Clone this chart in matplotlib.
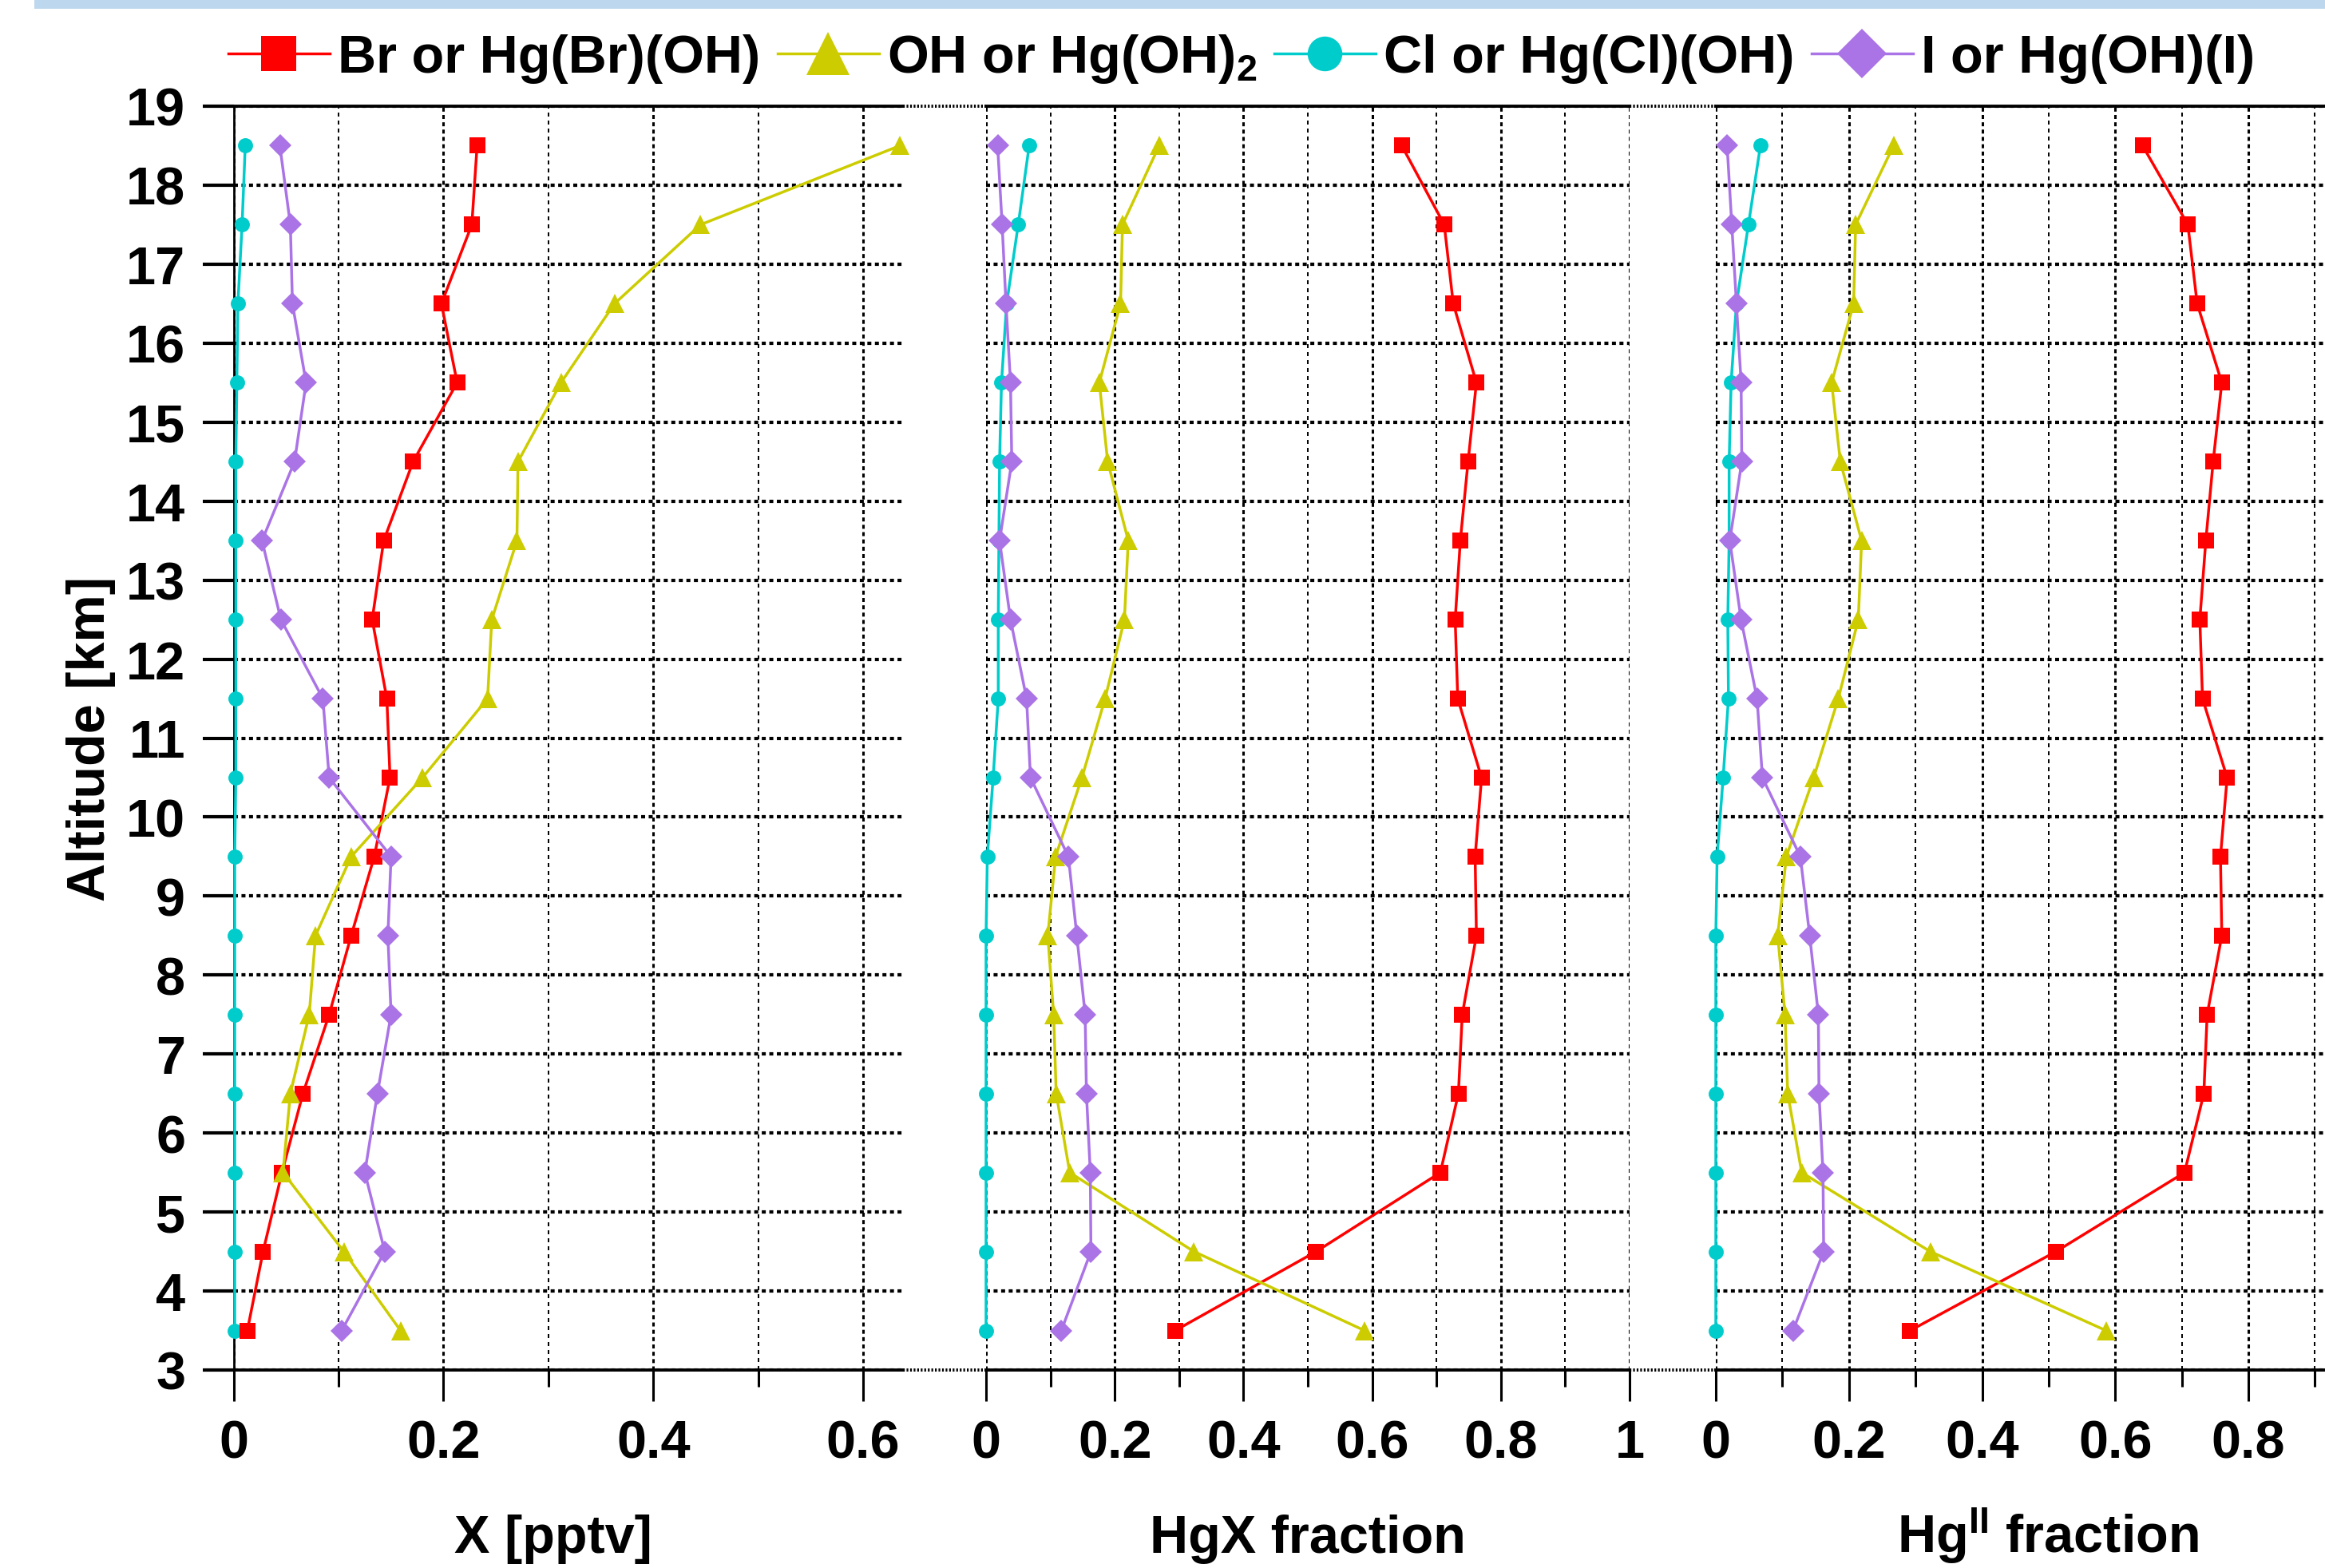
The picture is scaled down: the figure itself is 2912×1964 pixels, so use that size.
import matplotlib
matplotlib.use("Agg")
import matplotlib.pyplot as plt
from matplotlib.ticker import MultipleLocator, FuncFormatter
from matplotlib.lines import Line2D
from matplotlib.patches import Rectangle

plt.rcParams['font.family'] = ['Liberation Sans', 'DejaVu Sans']
plt.rcParams['font.weight'] = 'bold'
plt.rcParams['axes.labelweight'] = 'bold'
plt.rcParams['mathtext.fontset'] = 'custom'
plt.rcParams['mathtext.rm'] = 'Liberation Sans:bold'
plt.rcParams['mathtext.bf'] = 'Liberation Sans:bold'
plt.rcParams['mathtext.it'] = 'Liberation Sans:bold'
plt.rcParams['lines.scale_dashes'] = False

### Daten
altitude = [18.5, 17.5, 16.5, 15.5, 14.5, 13.5, 12.5, 11.5, 10.5, 9.5, 8.5, 7.5, 6.5, 5.5, 4.5, 3.5]

# X [pptv]
br_x = [0.232, 0.227, 0.198, 0.213, 0.171, 0.143, 0.132, 0.146, 0.149, 0.134, 0.112, 0.091, 0.066, 0.046, 0.028, 0.013]
oh_x = [0.635, 0.445, 0.363, 0.312, 0.271, 0.270, 0.246, 0.242, 0.180, 0.112, 0.078, 0.072, 0.054, 0.047, 0.105, 0.159]
cl_x = [0.011, 0.008, 0.004, 0.003, 0.002, 0.002, 0.002, 0.002, 0.002, 0.001, 0.001, 0.001, 0.001, 0.001, 0.001, 0.001]
i_x = [0.044, 0.054, 0.056, 0.069, 0.058, 0.027, 0.045, 0.085, 0.091, 0.150, 0.147, 0.150, 0.137, 0.125, 0.144, 0.103]

# HgX fraction
br_hgx = [0.646, 0.712, 0.726, 0.762, 0.749, 0.737, 0.729, 0.733, 0.770, 0.760, 0.762, 0.740, 0.734, 0.706, 0.513, 0.294]
oh_hgx = [0.269, 0.212, 0.209, 0.176, 0.189, 0.221, 0.215, 0.185, 0.149, 0.108, 0.096, 0.105, 0.109, 0.130, 0.323, 0.588]
cl_hgx = [0.067, 0.050, 0.032, 0.024, 0.021, 0.020, 0.019, 0.019, 0.011, 0.002, 0.0, 0.0, 0.0, 0.0, 0.0, 0.0]
i_hgx = [0.018, 0.025, 0.031, 0.038, 0.040, 0.021, 0.038, 0.063, 0.069, 0.128, 0.141, 0.154, 0.156, 0.162, 0.163, 0.117]

# Hg(II) fraction
br_hg2 = [0.641, 0.709, 0.723, 0.760, 0.747, 0.736, 0.727, 0.731, 0.768, 0.758, 0.760, 0.738, 0.733, 0.704, 0.511, 0.292]
oh_hg2 = [0.267, 0.210, 0.207, 0.174, 0.187, 0.219, 0.214, 0.184, 0.147, 0.106, 0.093, 0.104, 0.108, 0.129, 0.322, 0.586]
cl_hg2 = [0.067, 0.049, 0.031, 0.023, 0.020, 0.020, 0.018, 0.019, 0.011, 0.002, 0.0, 0.0, 0.0, 0.0, 0.0, 0.0]
i_hg2 = [0.017, 0.024, 0.031, 0.038, 0.039, 0.021, 0.038, 0.062, 0.070, 0.127, 0.141, 0.154, 0.155, 0.161, 0.162, 0.116]

labels = ['Br or Hg(Br)(OH)', r'OH or Hg(OH)$_2$', 'Cl or Hg(Cl)(OH)', 'I or Hg(OH)(I)']
xlabels = ['X [pptv]', 'HgX fraction', r'Hg$^{\rm II}$ fraction']
xmax = [0.638, 1.0, 0.915]

styles = [dict(color='#FF0000', marker='s', ms=7, zorder=4),
          dict(color='#CCCC00', marker='^', ms=8.3, zorder=5),
          dict(color='#00CCCC', marker='o', ms=6.8, zorder=3),
          dict(color='#AA73E6', marker='D', ms=6.9, zorder=6)]

panels = [[br_x, oh_x, cl_x, i_x], [br_hgx, oh_hgx, cl_hgx, i_hgx], [br_hg2, oh_hg2, cl_hg2, i_hg2]]

W, H = 2912, 1965
fig = plt.figure(figsize=(W / 200, H / 200), dpi=200)

bottom = 1 - 1717 / H
height = (1717 - 134) / H
lefts = [292.7, 1235, 2149]
rights = [1131, 2041, 2912]
label_x = [0.477, 0.5, 0.545]

axes = []
for k in range(3):
    ax = fig.add_axes([lefts[k] / W, bottom, (rights[k] - lefts[k]) / W, height])
    axes.append(ax)
    lines = []
    for series, st in zip(panels[k], styles):
        l, = ax.plot(series, altitude, lw=1.25, clip_on=False, markeredgewidth=0, **st)
        lines.append(l)
    if k == 0:
        handles = lines

    ax.set_xlim(0, xmax[k])
    ax.set_ylim(3, 19)
    ax.xaxis.set_major_locator(MultipleLocator(0.2))
    ax.xaxis.set_minor_locator(MultipleLocator(0.1))
    ax.xaxis.set_major_formatter(FuncFormatter(lambda v, p: '{:g}'.format(round(v, 2))))
    ax.yaxis.set_major_locator(MultipleLocator(1))

    ax.grid(True, which='major', axis='y', color='k', lw=1.5, linestyle=(0, (1.8, 1.6)))
    ax.grid(True, which='major', axis='x', color='k', lw=1.1, linestyle=(0, (1.8, 1.5)))
    ax.grid(True, which='minor', axis='x', color='k', lw=0.7, linestyle=(0, (1.8, 1.8)))
    ax.set_axisbelow(True)

    ax.tick_params(axis='x', which='major', direction='out', length=14, width=1.1, pad=8, labelsize=24)
    ax.tick_params(axis='x', which='minor', direction='out', length=7.5, width=1.1)
    if k == 0:
        ax.tick_params(axis='y', direction='out', length=14, width=1.5, pad=7.8, labelsize=24)
        ax.spines['left'].set_linewidth(1.0)
        ax.set_ylabel('Altitude [km]', fontsize=24)
        ax.yaxis.label.set_va('center')
        ax.yaxis.set_label_coords(-0.213, 0.5)
    else:
        ax.tick_params(axis='y', left=False, labelleft=False)
        ax.spines['left'].set_visible(False)
    ax.spines['right'].set_visible(False)
    ax.spines['top'].set_linewidth(1.4)
    ax.spines['bottom'].set_linewidth(1.4)

    ax.set_xlabel(xlabels[k], fontsize=24)
    ax.xaxis.label.set_va('baseline')
    ax.xaxis.set_label_coords(label_x[k], -0.144)

# gepunktete Achsenunterbrechung
for x0, x1 in [(1131, 1235), (2041, 2149)]:
    for y in [134, 1717]:
        fig.add_artist(Line2D([x0 / W, x1 / W], [1 - y / H, 1 - y / H], color='k', lw=1.4,
                              linestyle=(0, (0.8, 0.8)), transform=fig.transFigure))

# hellblauer Balken oben
fig.add_artist(Rectangle((43 / W, 1 - 12 / H), 1, 12 / H, color='#BDD7EE', transform=fig.transFigure, lw=0))

fig.legend(handles, labels, loc='center', bbox_to_anchor=(0.534, 1 - 74 / H), ncol=4, frameon=False,
           fontsize=24, handlelength=1.9, handletextpad=0.15, columnspacing=0.33, markerscale=2.3,
           borderaxespad=0, borderpad=0)

plt.savefig('out.png', dpi=200)
plt.close()
